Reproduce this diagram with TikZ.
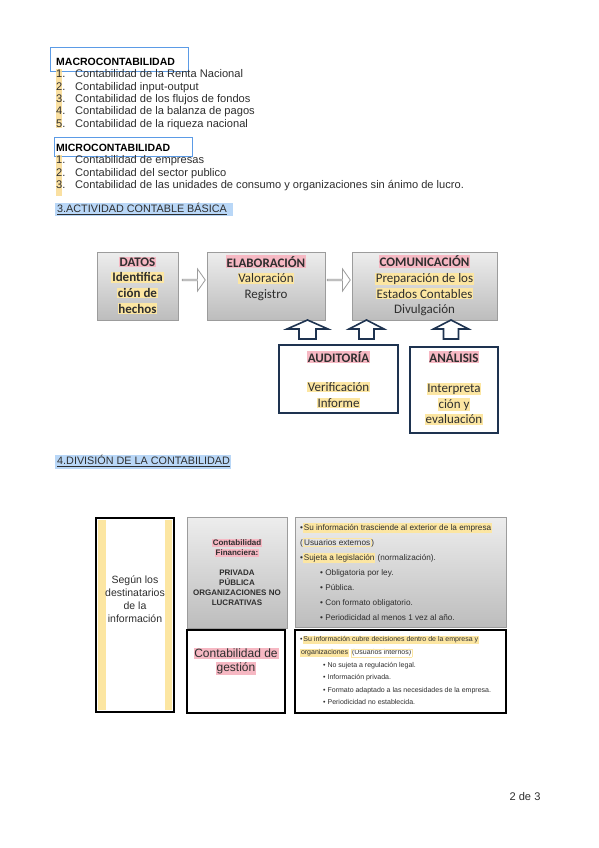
\documentclass[tikz,border=0pt]{standalone}
\usepackage{fontspec}
\setmainfont{Liberation Sans}
\newfontfamily\calibri{Carlito}
\usepackage{xcolor}
\usepackage{tikz}
\usetikzlibrary{shapes.arrows, arrows.meta, positioning, calc}
\definecolor{txtgray}{HTML}{2E2E2E}
\definecolor{selblue}{HTML}{5B9BE6}
\definecolor{hlblue}{HTML}{B9D7F7}
\definecolor{hlpink}{HTML}{F6B8C3}
\definecolor{hlyellow}{HTML}{FCE6A2}
\definecolor{stripyellow}{HTML}{F9D98A}
\definecolor{navyline}{HTML}{1E3350}
\definecolor{boxgray}{HTML}{9C9C9C}
\setlength{\fboxsep}{0.8pt}
\newcommand{\hlp}[1]{\colorbox{hlpink}{#1}}
\newcommand{\hly}[1]{\colorbox{hlyellow}{#1}}
\newcommand{\hlframe}[1]{{\color{hlyellow}\fbox{\color{txtgray}#1}}}
\newcommand{\numlbl}[1]{\makebox[19pt][l]{#1}}

\begin{document}
\begin{tikzpicture}[x=1pt, y=-1pt,
    listtxt/.style={font=\fontsize{11.1}{12.3}\selectfont, text=txtgray, inner sep=0pt, text height=8pt, text depth=2.3pt, anchor=west},
    titletxt/.style={listtxt, font=\fontsize{10.5}{12}\selectfont\bfseries, text=black},
    headtxt/.style={listtxt, font=\fontsize{10.8}{12}\selectfont},
    selbox/.style={rectangle, draw=selblue, line width=0.8pt},
    flowbox/.style={rectangle, draw=boxgray, line width=0.8pt, top color=black!7, bottom color=black!26},
    flowtxt/.style={font=\calibri\fontsize{13}{15.7}\selectfont, align=center, text=txtgray, inner sep=0pt},
    grayarrow/.style={single arrow, draw=boxgray, fill=white, line width=0.8pt, minimum height=23pt, minimum width=22pt, single arrow head extend=5.5pt, single arrow tip angle=110, inner sep=0pt},
    navyarrow/.style={draw=navyline, fill=white, line width=1.6pt, line join=miter},
    navybox/.style={rectangle, draw=navyline, line width=1.8pt, fill=white},
    blackbox/.style={rectangle, draw=black, line width=1.6pt},
    smalltxt/.style={font=\fontsize{8.2}{15}\selectfont, text=txtgray, inner sep=0pt, text height=5.9pt, text depth=1.7pt, anchor=west},
    tinytxt/.style={font=\fontsize{7}{12}\selectfont, text=txtgray, inner sep=0pt, text height=5.1pt, text depth=1.4pt, anchor=west},
    divtxt/.style={align=center, text=txtgray, inner sep=0pt}
]
\useasboundingbox[fill=white] (0,0) rectangle (599,848);

% Macrocontabilidad
\node[selbox, minimum width=138pt, minimum height=24pt] (macrobox) at (119,59) {};
\fill[stripyellow, opacity=.8] (55.5,69) rectangle (61.5,128);
\node[titletxt] (macro) at (56,63) {MACROCONTABILIDAD};
\node[listtxt] (ma1) at (56,75) {\numlbl{1.}Contabilidad de la Renta Nacional};
\node[listtxt] (ma2) at (56,87.3) {\numlbl{2.}Contabilidad input-output};
\node[listtxt] (ma3) at (56,99.6) {\numlbl{3.}Contabilidad de los flujos de fondos};
\node[listtxt] (ma4) at (56,111.9) {\numlbl{4.}Contabilidad de la balanza de pagos};
\node[listtxt] (ma5) at (56,124.2) {\numlbl{5.}Contabilidad de la riqueza nacional};

% Microcontabilidad
\node[selbox, minimum width=138pt, minimum height=19pt] (microbox) at (123,146.5) {};
\fill[stripyellow, opacity=.8] (55.5,155) rectangle (61.5,196);
\node[titletxt] (micro) at (56,149) {MICROCONTABILIDAD};
\node[listtxt] (mi1) at (56,160.8) {\numlbl{1.}Contabilidad de empresas};
\node[listtxt] (mi2) at (56,173.2) {\numlbl{2.}Contabilidad del sector publico};
\node[listtxt] (mi3) at (56,185.6) {\numlbl{3.}Contabilidad de las unidades de consumo y organizaciones sin ánimo de lucro.};

% Actividad contable basica
\fill[hlblue] (55,203) rectangle (233,216);
\node[headtxt] (sec3) at (57,210) {\underline{3.ACTIVIDAD CONTABLE BÁSICA}};

\node[flowbox, minimum width=81pt, minimum height=68pt] (datos) at (137.5,286) {};
\node[flowbox, minimum width=118pt, minimum height=68pt] (elab) at (266,286) {};
\node[flowbox, minimum width=145pt, minimum height=68pt] (comun) at (424.5,286) {};
\node[flowtxt, font=\calibri\fontsize{13}{15.7}\selectfont\bfseries] (datostxt) at (137.5,285.5) {\hlp{DATOS}\\\hly{Identifica}\\\hly{ción de}\\\hly{hechos}};
\node[flowtxt] (elabtxt) at (266,278) {\textbf{\hlp{ELABORACIÓN}}\\\hly{Valoración}\\Registro};
\node[flowtxt] (comuntxt) at (424.5,285.5) {\textbf{\hlp{COMUNICACIÓN}}\\\hly{Preparación de los}\\\hly{Estados Contables}\\Divulgación};

\node[grayarrow] (ar1) at (193.5,280) {};
\node[grayarrow] (ar2) at (338.5,280) {};

% Up arrows
\coordinate (up1) at (307.5,320);
\coordinate (up2) at (366.5,320);
\coordinate (up3) at (451,320);
\draw[navyarrow] (up1) -- ++(20.5,9) -- ++(-12,0) -- ++(0,10) -- ++(-17,0) -- ++(0,-10) -- ++(-12,0) -- cycle;
\draw[navyarrow] (up2) -- ++(17.5,9) -- ++(-10,0) -- ++(0,10) -- ++(-15,0) -- ++(0,-10) -- ++(-10,0) -- cycle;
\draw[navyarrow] (up3) -- ++(17.5,9) -- ++(-10,0) -- ++(0,10) -- ++(-15,0) -- ++(0,-10) -- ++(-10,0) -- cycle;

\node[navybox, minimum width=119pt, minimum height=68pt] (audit) at (338.5,379) {};
\node[navybox, minimum width=88pt, minimum height=86pt] (analisis) at (454,390) {};
\node[flowtxt] (audittit) at (338.5,357) {\textbf{\hlp{AUDITORÍA}}};
\node[flowtxt] (audittxt) at (338.5,395) {\hly{Verificación}\\\hly{Informe}};
\node[flowtxt] (analtit) at (454,357) {\textbf{\hlp{ANÁLISIS}}};
\node[flowtxt] (analtxt) at (454,404) {\hly{Interpreta}\\\hly{ción y}\\\hly{evaluación}};

% Division de la contabilidad
\fill[hlblue] (55,455) rectangle (231,469);
\node[headtxt] (sec4) at (57,462) {\underline{4.DIVISIÓN DE LA CONTABILIDAD}};

\fill[hlyellow] (98,520) rectangle (106,710);
\fill[hlyellow] (165,520) rectangle (172,710);
\node[blackbox, minimum width=78pt, minimum height=194pt] (destin) at (135,615) {};
\node[flowbox, minimum width=100pt, minimum height=111pt] (financ) at (237,572.5) {};
\node[blackbox, minimum width=98pt, minimum height=83pt] (gestion) at (236,671.5) {};
\node[flowbox, minimum width=211pt, minimum height=110pt] (fininfo) at (400.5,572) {};
\node[blackbox, minimum width=211pt, minimum height=83pt] (gesinfo) at (400.5,671.5) {};

\node[divtxt, font=\fontsize{10.5}{12.8}\selectfont] (destintxt) at (135,599) {Según los\\destinatarios\\de la\\información};
\node[divtxt, font=\fontsize{8}{10}\selectfont\bfseries] (fintit) at (237,548) {\hlp{Contabilidad}\\\hlp{Financiera:}};
\node[divtxt, font=\fontsize{8}{10}\selectfont\bfseries] (fintipos) at (237,588) {PRIVADA\\PÚBLICA\\ORGANIZACIONES NO\\LUCRATIVAS};
\node[divtxt, font=\fontsize{12}{13.5}\selectfont] (gestxt) at (236,661.5) {\hlp{Contabilidad de}\\\hlp{gestión}};

\node[smalltxt] (f1) at (300,528) {•\hly{Su información trasciende al exterior de la empresa}};
\node[smalltxt] (f2) at (300,543) {(\hlframe{Usuarios externos})};
\node[smalltxt] (f3) at (300,558) {•\hly{Sujeta a legislación} (normalización).};
\node[smalltxt] (f4) at (320,573) {• Obligatoria por ley.};
\node[smalltxt] (f5) at (320,588) {• Pública.};
\node[smalltxt] (f6) at (320,603) {• Con formato obligatorio.};
\node[smalltxt] (f7) at (320,618) {• Periodicidad al menos 1 vez al año.};

\node[tinytxt] (g1) at (300,640) {•\hly{Su información cubre decisiones dentro de la empresa y}};
\node[tinytxt] (g2) at (300,653) {\hly{organizaciones} \hlframe{(Usuarios internos)}};
\node[tinytxt] (g3) at (323,665.5) {• No sujeta a regulación legal.};
\node[tinytxt] (g4) at (323,678) {• Información privada.};
\node[tinytxt] (g5) at (323,690.5) {• Formato adaptado a las necesidades de la empresa.};
\node[tinytxt] (g6) at (323,703) {• Periodicidad no establecida.};

% Page number
\node[listtxt, anchor=center] (pagenum) at (525,798) {2 de 3};

\end{tikzpicture}
\end{document}
